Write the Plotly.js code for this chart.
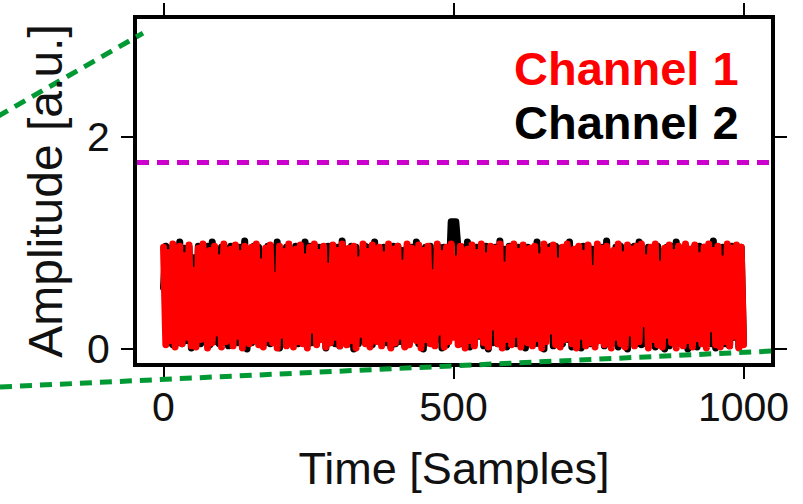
<!DOCTYPE html>
<html>
<head>
<meta charset="utf-8">
<script src="https://cdn.plot.ly/plotly-3.0.1.min.js"></script>
<style>
  html, body { margin: 0; padding: 0; background: #fff; }
  #chart { width: 803px; height: 504px; }
  .scatterlayer .js-line { stroke-linejoin: round !important; stroke-linecap: round !important; }
</style>
</head>
<body>
<div id="chart"></div>
<script>
// ---- data ----
const sampleStep = 4; // samples between plotted points
const channel1 = [
  0.96,0.04,0.91,0.08,0.99,0.02,0.63,0.97,0.05,0.88,
  0.11,0.98,0.03,0.74,0.02,0.95,0.09,0.99,0.41,0.01,
  0.93,0.06,0.97,0.15,0.86,0.02,0.99,0.07,0.56,0.94,
  0.03,0.98,0.12,0.90,0.01,0.97,0.33,0.05,0.96,0.08,
  0.99,0.04,0.82,0.02,0.95,0.10,0.98,0.06,0.69,0.01,
  0.97,0.13,0.92,0.03,0.99,0.47,0.02,0.94,0.07,0.98,
  0.05,0.87,0.01,0.96,0.18,0.99,0.04,0.91,0.09,0.97,
  0.02,0.78,0.06,0.98,0.11,0.93,0.03,0.99,0.52,0.04,
  0.95,0.08,0.97,0.01,0.84,0.14,0.99,0.05,0.92,0.02,
  0.98,0.27,0.07,0.96,0.03,0.89,0.10,0.99,0.01,0.94,
  0.06,0.97,0.12,0.81,0.02,0.99,0.04,0.95,0.38,0.08,
  0.98,0.01,0.93,0.09,0.97,0.05,0.72,0.03,0.99,0.16,
  0.90,0.02,0.96,0.07,0.99,0.11,0.85,0.04,0.97,0.60,
  0.01,0.94,0.08,0.98,0.03,0.91,0.13,0.99,0.06,0.88,
  0.02,0.97,0.21,0.95,0.05,0.99,0.01,0.79,0.09,0.96,
  0.04,0.99,0.14,0.92,0.02,0.98,0.44,0.06,0.95,0.03,
  0.97,0.10,0.87,0.01,0.99,0.07,0.93,0.17,0.98,0.04,
  0.83,0.02,0.96,0.09,0.99,0.31,0.05,0.94,0.01,0.97,
  0.12,0.90,0.03,0.98,0.06,0.76,0.02,0.99,0.08,0.95,
  0.04,0.97,0.58,0.01,0.93,0.11,0.99,0.05,0.89,0.02,
  0.98,0.15,0.94,0.03,0.97,0.07,0.99,0.24,0.86,0.01,
  0.96,0.09,0.99,0.04,0.80,0.02,0.95,0.13,0.98,0.06,
  0.91,0.01,0.97,0.36,0.03,0.99,0.08,0.94,0.02,0.98,
  0.10,0.88,0.05,0.96,0.01,0.99,0.19,0.93,0.04,0.97,
  0.02,0.85,0.07,0.99,0.03,0.95,0.12,0.98,0.01,0.96,
  0.04
];
const channel2 = [
  0.58,0.97,0.06,0.95,0.04,0.92,0.06,1.01,0.05,0.95,
  0.08,0.96,0.01,0.86,0.06,0.97,0.05,0.93,0.15,0.97,
  0.04,1.01,0.07,0.90,0.05,0.96,0.11,0.95,0.03,0.97,
  0.05,0.88,0.06,0.96,0.09,1.02,0.00,0.94,0.06,0.97,
  0.12,0.96,0.05,0.91,0.06,0.97,0.05,0.96,0.08,1.01,
  0.01,0.93,0.05,0.96,0.06,0.87,0.10,0.97,0.05,0.95,
  0.07,1.01,0.04,0.97,0.06,0.92,0.05,0.96,0.13,0.96,
  0.01,0.97,0.06,0.89,0.05,0.96,0.03,1.02,0.09,0.94,
  0.05,0.97,0.00,0.96,0.05,0.91,0.08,0.97,0.05,0.96,
  0.04,1.01,0.11,0.95,0.06,0.96,0.06,0.90,0.02,0.97,
  0.05,0.97,0.07,0.93,0.03,0.96,0.06,0.96,0.10,1.01,
  0.05,0.94,0.00,0.96,0.06,0.97,0.05,0.92,0.09,0.96,
  0.01,0.96,0.04,0.97,1.20,1.20,1.20,0.93,0.05,0.96,
  0.07,1.01,0.02,0.95,0.05,0.96,0.12,0.97,0.03,0.97,
  0.00,0.92,0.06,0.96,0.05,1.02,0.08,0.94,0.02,0.97,
  0.10,0.97,0.05,0.96,0.04,0.89,0.01,0.96,0.07,0.95,
  0.05,1.01,0.05,0.93,0.00,0.96,0.14,0.97,0.03,0.97,
  0.06,0.95,0.05,0.96,0.09,1.01,0.02,0.91,0.04,0.96,
  0.01,0.97,0.08,0.97,0.05,0.94,0.05,0.96,0.11,0.96,
  0.03,1.02,0.05,0.90,0.06,0.96,0.02,0.97,0.07,0.95,
  0.00,0.96,0.13,0.97,0.05,1.01,0.04,0.93,0.05,0.96,
  0.08,0.96,0.02,0.97,0.05,0.92,0.00,0.96,0.03,0.97,
  0.10,1.01,0.05,0.95,0.06,0.96,0.00,0.94,0.04,0.97,
  0.02,0.97,0.09,0.96,0.05,0.91,0.05,1.02,0.01,0.96,
  0.07,0.96,0.05,0.93,0.03,0.97,0.11,0.97,0.02,0.96,
  0.05
];
const thresholdLevel = 1.76;
const xTickVals = [0, 500, 1000];
const yTickVals = [0, 2];
const seriesNames = ['Channel 1', 'Channel 2'];

const xs1 = channel1.map((_, i) => i * sampleStep);
const xs2 = channel2.map((_, i) => i * sampleStep);

const fam = 'Liberation Sans, Arial, sans-serif';
const tickFont = { family: fam, size: 41, color: '#111' };

const traces = [
  { x: xs2, y: channel2, type: 'scatter', mode: 'lines', name: seriesNames[1],
    line: { color: '#000000', width: 7 }, hoverinfo: 'skip' },
  { x: xs1, y: channel1, type: 'scatter', mode: 'lines', name: seriesNames[0],
    line: { color: '#ff0000', width: 7 }, hoverinfo: 'skip' }
];

const layout = {
  width: 803, height: 504,
  paper_bgcolor: '#fff', plot_bgcolor: '#fff',
  showlegend: false,
  margin: { l: 137, r: 32, t: 19, b: 141, pad: 0 },
  xaxis: {
    range: [-45.7, 1047.4], tickvals: xTickVals, ticktext: xTickVals.map(String),
    showgrid: false, zeroline: false,
    showline: true, linecolor: '#000', linewidth: 4, mirror: 'allticks',
    ticks: 'outside', ticklen: 12, tickwidth: 2, tickcolor: '#000',
    ticklabelstandoff: -7,
    tickfont: tickFont,
    title: { text: 'Time [Samples]', font: { family: fam, size: 45, color: '#111' }, standoff: 24 }
  },
  yaxis: {
    range: [-0.132, 3.113], tickvals: yTickVals, ticktext: yTickVals.map(String),
    showgrid: false, zeroline: false,
    showline: true, linecolor: '#000', linewidth: 4, mirror: 'allticks',
    ticks: 'outside', ticklen: 12, tickwidth: 2, tickcolor: '#000',
    ticklabelstandoff: 3,
    tickfont: tickFont,
    title: { text: 'Amplitude [a.u.]', font: { family: fam, size: 48, color: '#111' }, standoff: 10 }
  },
  shapes: [
    { type: 'line', xref: 'paper', yref: 'y', x0: 0, x1: 1, y0: thresholdLevel, y1: thresholdLevel,
      line: { color: '#cc00cc', width: 5, dash: '12px,8px' }, layer: 'above' },
    { type: 'line', xref: 'paper', yref: 'paper', x0: -0.2476, y0: 0.6875, x1: 0.0095, y1: 0.959,
      line: { color: '#009933', width: 5, dash: '12px,8px' }, layer: 'above' },
    { type: 'line', xref: 'paper', yref: 'paper', x0: -0.2476, y0: -0.0724, x1: 1.003, y1: 0.0349,
      line: { color: '#009933', width: 5, dash: '12px,8px' }, layer: 'above' }
  ],
  annotations: [
    { text: '<b>' + seriesNames[0] + '</b>', xref: 'paper', yref: 'paper', x: 0.952, y: 0.855,
      xanchor: 'right', yanchor: 'middle', showarrow: false,
      font: { family: fam, size: 47, color: '#ff0000' } },
    { text: '<b>' + seriesNames[1] + '</b>', xref: 'paper', yref: 'paper', x: 0.952, y: 0.698,
      xanchor: 'right', yanchor: 'middle', showarrow: false,
      font: { family: fam, size: 47, color: '#000000' } }
  ]
};

Plotly.newPlot('chart', traces, layout, { staticPlot: true, displayModeBar: false });
</script>
</body>
</html>
